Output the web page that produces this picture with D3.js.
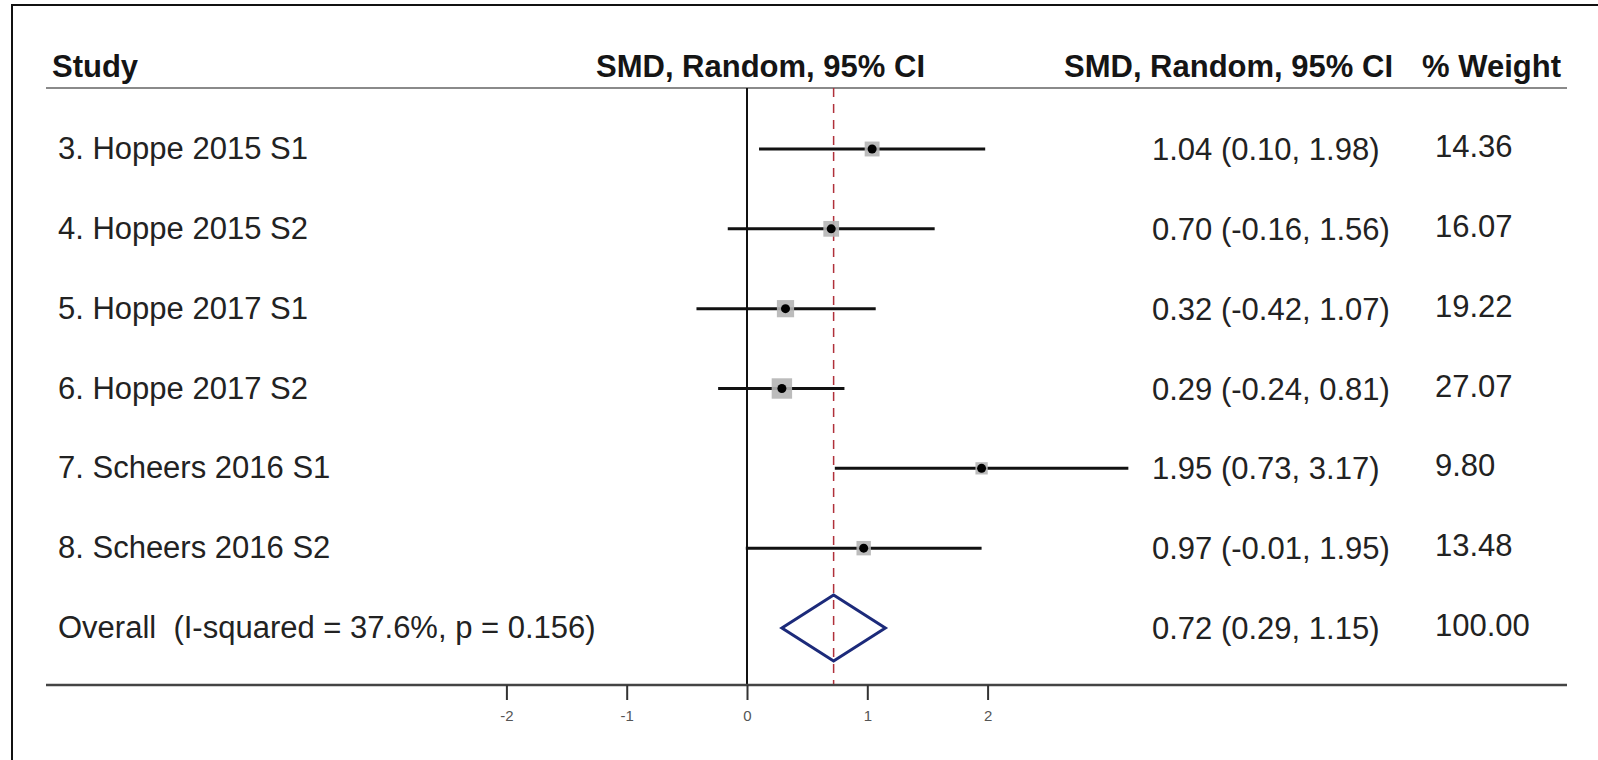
<!DOCTYPE html>
<html>
<head>
<meta charset="utf-8">
<script src="https://cdn.jsdelivr.net/npm/d3@7"></script>
<style>
  body { margin: 0; background: #fff; }
  svg text { font-family: "Liberation Sans", Arial, Helvetica, sans-serif; white-space: pre; }
</style>
</head>
<body>
<script>
// Study data
const studies = ["3. Hoppe 2015 S1", "4. Hoppe 2015 S2", "5. Hoppe 2017 S1",
  "6. Hoppe 2017 S2", "7. Scheers 2016 S1", "8. Scheers 2016 S2"];
const smd = [1.04, 0.70, 0.32, 0.29, 1.95, 0.97];
const lower = [0.10, -0.16, -0.42, -0.24, 0.73, -0.01];
const upper = [1.98, 1.56, 1.07, 0.81, 3.17, 1.95];
const weights = [14.36, 16.07, 19.22, 27.07, 9.80, 13.48];

const overallLabel = "Overall  (I-squared = 37.6%, p = 0.156)";
const overall = {est: 0.72, lo: 0.29, hi: 1.15, weight: 100.00};

const tickValues = [-2, -1, 0, 1, 2];
const headers = ["Study", "SMD, Random, 95% CI", "SMD, Random, 95% CI", "% Weight"];

const W = 1598, H = 760;

const svg = d3.select("body")
  .append("svg")
  .attr("width", W)
  .attr("height", H);

// frame
svg.append("path")
  .attr("d", `M12,${H + 5} V5 H${W + 5}`)
  .attr("fill", "none")
  .attr("stroke", "#111")
  .attr("stroke-width", 2);

const ruleY = 88, axisY = 685;
const lineLeft = 46, lineRight = 1567;

// scales
const x = d3.scaleLinear()
  .domain([-2, 2])
  .range([506.4, 987.6]);

const rows = studies.concat([overallLabel]);
const y = d3.scalePoint()
  .domain(rows)
  .range([149, 628]);

const size = d3.scaleSqrt()
  .domain([0, 30])
  .range([0, 21.5]);

const fmt = v => v.toFixed(2);

// header texts
const hdr = svg.append("g")
  .attr("font-weight", "bold")
  .attr("font-size", 31)
  .attr("fill", "#151515");
hdr.append("text").attr("x", 52).attr("y", 77).text(headers[0]);
hdr.append("text").attr("x", 925).attr("y", 77).attr("text-anchor", "end").text(headers[1]);
hdr.append("text").attr("x", 1393).attr("y", 77).attr("text-anchor", "end").text(headers[2]);
hdr.append("text").attr("x", 1561).attr("y", 77).attr("text-anchor", "end").text(headers[3]);

// header rule
svg.append("line")
  .attr("x1", lineLeft).attr("x2", lineRight)
  .attr("y1", ruleY).attr("y2", ruleY)
  .attr("stroke", "#8a8a8a")
  .attr("stroke-width", 2);

// no-effect line
svg.append("line")
  .attr("x1", x(0)).attr("x2", x(0))
  .attr("y1", ruleY).attr("y2", axisY)
  .attr("stroke", "#111")
  .attr("stroke-width", 2);

// overall effect dashed line
svg.append("line")
  .attr("x1", x(overall.est)).attr("x2", x(overall.est))
  .attr("y1", ruleY).attr("y2", axisY)
  .attr("stroke", "#b0303a")
  .attr("stroke-width", 1.5)
  .attr("stroke-dasharray", "9,7");

// study rows
const idx = d3.range(studies.length);

svg.selectAll(".ci")
  .data(idx)
  .join("line")
  .attr("class", "ci")
  .attr("x1", i => x(lower[i]))
  .attr("x2", i => x(upper[i]))
  .attr("y1", i => y(studies[i]))
  .attr("y2", i => y(studies[i]))
  .attr("stroke", "#111")
  .attr("stroke-width", 3);

svg.selectAll(".box")
  .data(idx)
  .join("rect")
  .attr("class", "box")
  .attr("x", i => x(smd[i]) - size(weights[i]) / 2)
  .attr("y", i => y(studies[i]) - size(weights[i]) / 2)
  .attr("width", i => size(weights[i]))
  .attr("height", i => size(weights[i]))
  .attr("fill", "#b5b5b5")
  .attr("opacity", 0.9);

svg.selectAll(".dot")
  .data(idx)
  .join("circle")
  .attr("class", "dot")
  .attr("cx", i => x(smd[i]))
  .attr("cy", i => y(studies[i]))
  .attr("r", 4.5)
  .attr("fill", "#000");

// overall diamond
const dy = y(overallLabel), dh = 33;
svg.append("path")
  .attr("d", `M${x(overall.lo)},${dy} L${x(overall.est)},${dy - dh} L${x(overall.hi)},${dy} L${x(overall.est)},${dy + dh} Z`)
  .attr("fill", "none")
  .attr("stroke", "#1c2a7a")
  .attr("stroke-width", 3)
  .attr("stroke-linejoin", "miter");

// row labels and values
const txt = svg.append("g")
  .attr("font-size", 31)
  .attr("fill", "#222");

txt.selectAll(".lab")
  .data(rows)
  .join("text")
  .attr("x", 58)
  .attr("y", d => y(d) + 10)
  .text(d => d);

const estText = idx.map(i => `${fmt(smd[i])} (${fmt(lower[i])}, ${fmt(upper[i])})`)
  .concat([`${fmt(overall.est)} (${fmt(overall.lo)}, ${fmt(overall.hi)})`]);
const wText = weights.map(fmt).concat([fmt(overall.weight)]);

txt.selectAll(".est")
  .data(rows)
  .join("text")
  .attr("x", 1152)
  .attr("y", (d, i) => y(d) + 11)
  .text((d, i) => estText[i]);

txt.selectAll(".wt")
  .data(rows)
  .join("text")
  .attr("x", 1435)
  .attr("y", (d, i) => y(d) + 8)
  .text((d, i) => wText[i]);

// bottom axis
svg.append("line")
  .attr("x1", lineLeft).attr("x2", lineRight)
  .attr("y1", axisY).attr("y2", axisY)
  .attr("stroke", "#444")
  .attr("stroke-width", 2.5);

const axis = svg.append("g")
  .attr("transform", `translate(0,${axisY})`)
  .call(d3.axisBottom(x)
    .tickValues(tickValues)
    .tickFormat(d => String(d))
    .tickSize(15)
    .tickPadding(10));
axis.select(".domain").remove();
axis.selectAll(".tick line").attr("stroke", "#333").attr("stroke-width", 2);
axis.selectAll(".tick text")
  .attr("font-family", "Liberation Sans, Arial, sans-serif")
  .attr("font-size", 15)
  .attr("fill", "#555");
</script>
</body>
</html>
